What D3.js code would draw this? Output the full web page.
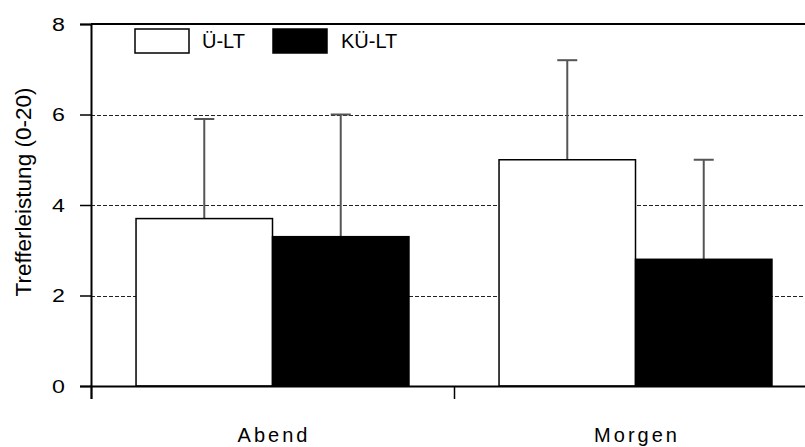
<!DOCTYPE html>
<html><head><meta charset="utf-8">
<script src="https://cdn.jsdelivr.net/npm/d3@7"></script>
<style>body{margin:0;background:#fff;} svg{display:block;font-family:"Liberation Sans",Arial,sans-serif;}</style>
</head><body><svg id="c" width="805" height="447"></svg>
<script>
const categories = ["Abend", "Morgen"];
const seriesNames = ["Ü-LT", "KÜ-LT"];
const meanUe = [3.7, 5.0];
const meanKue = [3.3, 2.8];
const errUe = [2.2, 2.2];
const errKue = [2.7, 2.2];
const yTicks = [0, 2, 4, 6, 8];
const yLabel = "Trefferleistung (0-20)";

(function () {
const fills = ["#ffffff", "#000000"];
const svg = d3.select("#c");
const pLeft = 91, pRight = 817, pTop = 24, pBottom = 386;

const x0 = d3.scaleBand().domain(categories).range([pLeft, pRight]).padding(0);
const x1 = d3.scaleBand().domain(seriesNames).range([0, x0.bandwidth()]).paddingInner(0).paddingOuter(0.33);
const y = d3.scaleLinear().domain([0, 8]).range([pBottom, pTop]);

const data = categories.map((c, i) => ({
  cat: c,
  vals: [
    {s: seriesNames[0], v: meanUe[i], e: errUe[i], f: fills[0]},
    {s: seriesNames[1], v: meanKue[i], e: errKue[i], f: fills[1]}
  ]
}));

// grid lines
svg.append("g").selectAll("line").data([2, 4, 6]).join("line")
  .attr("x1", pLeft).attr("x2", 805)
  .attr("y1", d => Math.round(y(d)) + 0.5).attr("y2", d => Math.round(y(d)) + 0.5)
  .attr("stroke", "#222").attr("stroke-width", 1).attr("stroke-dasharray", "4,2");

// error bars (behind bars)
const eb = svg.append("g");
data.forEach(d => d.vals.forEach(v => {
  const cx = x0(d.cat) + x1(v.s) + x1.bandwidth() / 2;
  eb.append("line").attr("x1", cx).attr("x2", cx).attr("y1", y(v.v)).attr("y2", y(v.v + v.e))
    .attr("stroke", "#555").attr("stroke-width", 2);
  eb.append("line").attr("x1", cx - 10).attr("x2", cx + 10).attr("y1", y(v.v + v.e)).attr("y2", y(v.v + v.e))
    .attr("stroke", "#555").attr("stroke-width", 2);
}));

// bars
const g = svg.append("g").selectAll("g").data(data).join("g")
  .attr("transform", d => `translate(${x0(d.cat)},0)`);
g.selectAll("rect").data(d => d.vals).join("rect")
  .attr("x", d => x1(d.s)).attr("width", x1.bandwidth())
  .attr("y", d => y(d.v)).attr("height", d => y(0) - y(d.v))
  .attr("fill", d => d.f).attr("stroke", "#000").attr("stroke-width", 1.5);

// top frame line
svg.append("line").attr("x1", pLeft).attr("x2", 805).attr("y1", pTop).attr("y2", pTop)
  .attr("stroke", "#000").attr("stroke-width", 2);

// y axis
const ya = svg.append("g").attr("transform", `translate(${pLeft},0)`)
  .call(d3.axisLeft(y).tickValues(yTicks).tickSize(11).tickPadding(26).tickFormat(d3.format("d")));
ya.select(".domain").attr("stroke", "#000").attr("stroke-width", 2);
ya.selectAll(".tick line").attr("stroke", "#000").attr("stroke-width", 1.5);
ya.selectAll("text").attr("font-size", 19).attr("fill", "#000")
  .attr("font-family", "Liberation Sans, Arial, sans-serif")
  .attr("text-anchor", "end")
  .attr("transform", "translate(-26,0) scale(1.22,1)").attr("x", 0);

// x axis
const xTickPos = d3.scaleLinear().domain([0, 2]).range([pLeft, pRight]);
const xa = svg.append("g").attr("transform", `translate(0,${pBottom})`)
  .call(d3.axisBottom(xTickPos).tickValues([0, 1, 2]).tickSize(13).tickFormat(""));
xa.select(".domain").attr("stroke", "#000").attr("stroke-width", 2);
xa.selectAll(".tick line").attr("stroke", "#000").attr("stroke-width", 1.5);

svg.append("g").selectAll("text").data(categories).join("text")
  .attr("x", d => x0(d) + x0.bandwidth() / 2 + 1.5).attr("y", 442)
  .attr("text-anchor", "middle").attr("font-size", 20).attr("letter-spacing", 3)
  .text(d => d);

// y label
svg.append("text").attr("transform", "translate(31,192) rotate(-90)")
  .attr("text-anchor", "middle").attr("font-size", 22.5).text(yLabel);

// legend
const lg = svg.append("g");
const legX = [135, 273], textX = [202, 341];
seriesNames.forEach((s, i) => {
  lg.append("rect").attr("x", legX[i]).attr("y", 29).attr("width", 54).attr("height", 24)
    .attr("fill", fills[i]).attr("stroke", "#000").attr("stroke-width", 1.5);
  lg.append("text").attr("x", textX[i]).attr("y", 48).attr("font-size", 20).text(s);
});
})();
</script></body></html>
